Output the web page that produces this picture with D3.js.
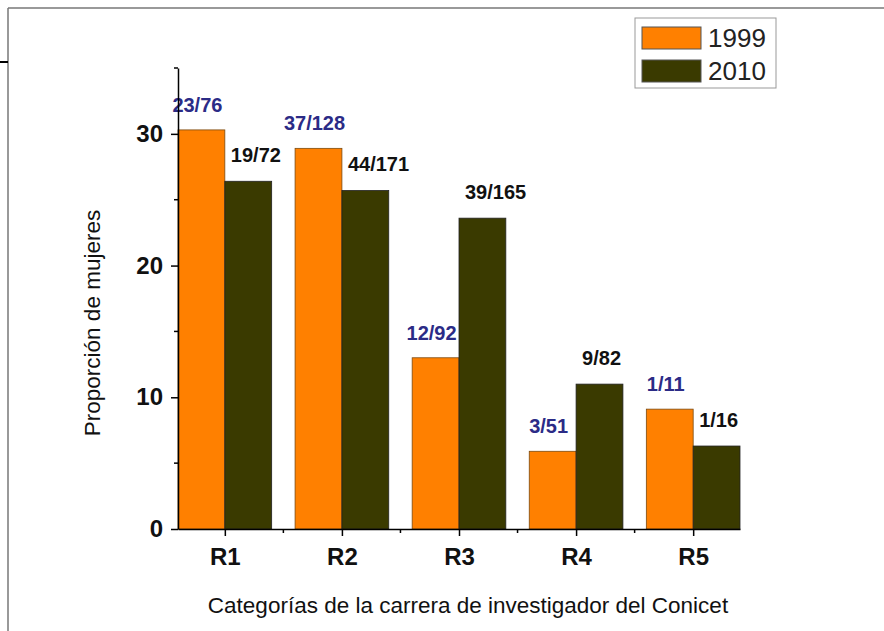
<!DOCTYPE html>
<html>
<head>
<meta charset="utf-8">
<script src="https://cdn.jsdelivr.net/npm/d3@7"></script>
<style>
  body { margin: 0; background: #fff; }
  svg { display: block; font-family: "Liberation Sans", Arial, sans-serif; }
</style>
</head>
<body>
<svg id="chart" width="884" height="631"></svg>
<script>
const categories = ['R1', 'R2', 'R3', 'R4', 'R5'];
const series = ['1999', '2010'];
const values1999 = [30.3, 28.9, 13.0, 5.9, 9.1];
const values2010 = [26.4, 25.7, 23.6, 11.0, 6.3];
const labels1999 = ['23/76', '37/128', '12/92', '3/51', '1/11'];
const labels2010 = ['19/72', '44/171', '39/165', '9/82', '1/16'];
const yTicks = [0, 10, 20, 30];
const yMinor = [5, 15, 25, 35];

const colors = { '1999': '#ff8000', '2010': '#3a3a00' };
const font = '"Liberation Sans", Arial, sans-serif';
const svg = d3.select('#chart');

// frame lines of the original page
svg.append('line').attr('x1', 8).attr('y1', 8).attr('x2', 884).attr('y2', 8)
  .attr('stroke', '#777').attr('stroke-width', 1.5);
svg.append('line').attr('x1', 8).attr('y1', 8).attr('x2', 8).attr('y2', 631)
  .attr('stroke', '#777').attr('stroke-width', 1.5);
svg.append('line').attr('x1', 0).attr('y1', 62).attr('x2', 8).attr('y2', 62)
  .attr('stroke', '#000').attr('stroke-width', 2);

const x = d3.scaleLinear().domain([0.6, 5.4]).range([178, 740]);
const y = d3.scaleLinear().domain([0, 35]).range([529, 68]);
const barW = x(1.4) - x(1);

const data = categories.map((c, i) => ({
  i: i + 1, cat: c,
  v1: values1999[i], v2: values2010[i],
  l1: labels1999[i], l2: labels2010[i]
}));

svg.selectAll('.bar1999').data(data).enter().append('rect')
  .attr('class', 'bar1999')
  .attr('x', d => x(d.i) - barW).attr('y', d => y(d.v1))
  .attr('width', barW).attr('height', d => y(0) - y(d.v1))
  .attr('fill', colors['1999']).attr('stroke', '#7a4a10').attr('stroke-width', 0.8);

svg.selectAll('.bar2010').data(data).enter().append('rect')
  .attr('class', 'bar2010')
  .attr('x', d => x(d.i)).attr('y', d => y(d.v2))
  .attr('width', barW).attr('height', d => y(0) - y(d.v2))
  .attr('fill', colors['2010']).attr('stroke', '#222').attr('stroke-width', 0.8);

// value labels
svg.selectAll('.lab1999').data(data).enter().append('text')
  .attr('x', d => x(d.i) - barW / 2 - 4).attr('y', d => y(d.v1) - 18)
  .attr('text-anchor', 'middle').attr('font-size', 20).attr('font-weight', 'bold')
  .attr('fill', '#2b2b86').text(d => d.l1);

svg.selectAll('.lab2010').data(data).enter().append('text')
  .attr('x', d => x(d.i) + 6).attr('y', d => y(d.v2) - 19)
  .attr('text-anchor', 'start').attr('font-size', 20).attr('font-weight', 'bold')
  .attr('fill', '#111').text(d => d.l2);

// y axis
const yAxis = svg.append('g').attr('transform', 'translate(178,0)')
  .call(d3.axisLeft(y).tickValues(yTicks).tickSize(7).tickPadding(8).tickSizeOuter(0));
yAxis.select('.domain').attr('stroke-width', 1.5);
yAxis.selectAll('.tick line').attr('stroke-width', 1.5);
yAxis.selectAll('.tick text').attr('font-size', 24).attr('font-weight', 'bold')
  .attr('fill', '#111').attr('font-family', font);
yAxis.selectAll('.minor').data(yMinor).enter().append('line')
  .attr('x1', 0).attr('x2', -4).attr('y1', d => y(d)).attr('y2', d => y(d))
  .attr('stroke', '#000').attr('stroke-width', 1.5);

// x axis
const xAxis = svg.append('g').attr('transform', `translate(0,${y(0)})`)
  .call(d3.axisBottom(x).tickValues(d3.range(1, 6)).tickFormat(d => categories[d - 1])
    .tickSize(7).tickPadding(12).tickSizeOuter(0));
xAxis.select('.domain').attr('stroke-width', 1.5);
xAxis.selectAll('.tick line').attr('stroke-width', 1.5);
xAxis.selectAll('.tick text').attr('font-size', 24).attr('font-weight', 'bold')
  .attr('fill', '#111').attr('font-family', font);
xAxis.selectAll('.minor').data([1.5, 2.5, 3.5, 4.5]).enter().append('line')
  .attr('x1', d => x(d)).attr('x2', d => x(d)).attr('y1', 0).attr('y2', 4)
  .attr('stroke', '#000').attr('stroke-width', 1.5);

// axis titles
svg.append('text').attr('transform', 'translate(100,323) rotate(-90)')
  .attr('text-anchor', 'middle').attr('font-size', 22.5).attr('fill', '#111')
  .text('Proporción de mujeres');
svg.append('text').attr('x', 468).attr('y', 613)
  .attr('text-anchor', 'middle').attr('font-size', 22.5).attr('fill', '#111')
  .text('Categorías de la carrera de investigador del Conicet');

// legend
const legend = svg.append('g').attr('transform', 'translate(635,18)');
legend.append('rect').attr('width', 141).attr('height', 70)
  .attr('fill', '#fff').attr('stroke', '#999').attr('stroke-width', 1);
series.forEach((s, i) => {
  legend.append('rect').attr('x', 7).attr('y', 9 + i * 33).attr('width', 59).attr('height', 22)
    .attr('fill', colors[s]).attr('stroke', '#555').attr('stroke-width', 1);
  legend.append('text').attr('x', 73).attr('y', 29 + i * 33)
    .attr('font-size', 26).attr('fill', '#222').text(s);
});
</script>
</body>
</html>
